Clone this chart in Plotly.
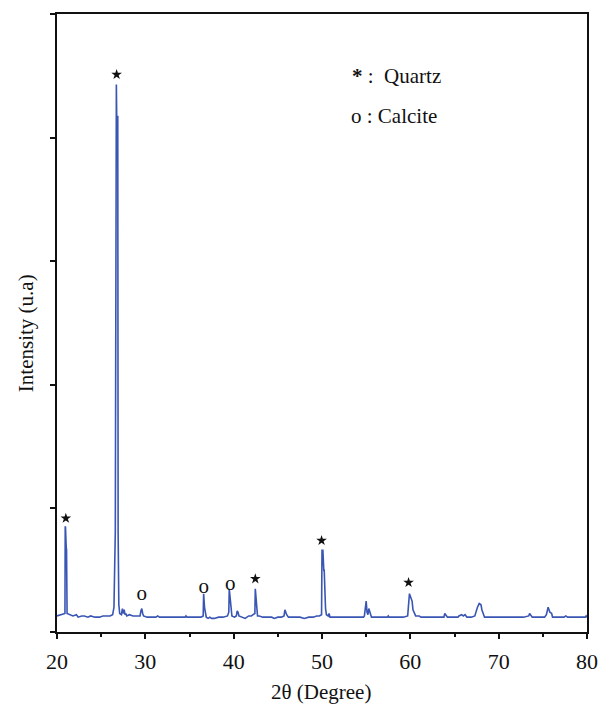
import plotly.graph_objects as go

# XRD pattern: 2theta (deg) and intensity (arb. units)
two_theta = [
    20.0, 20.4, 20.6, 20.9, 20.93, 20.96, 21.05, 21.08, 21.14, 21.4, 21.8, 22.2, 22.4, 22.8, 23.1, 23.5,
    23.8, 24.3, 24.8, 25.2, 25.6, 26.0, 26.3, 26.45, 26.6, 26.64, 26.72, 26.76, 26.88, 26.92, 27.0,
    27.1, 27.3, 27.4, 27.5, 27.6, 27.7, 27.8, 27.9, 28.2, 28.6, 29.0, 29.4, 29.5, 29.6, 29.7, 29.8,
    30.2, 30.8, 31.2, 31.4, 31.6, 32.5, 33.5, 34.5, 34.6, 34.7, 35.5, 36.3, 36.55, 36.6, 36.7, 36.8,
    36.9, 37.1, 37.3, 37.5, 37.8, 38.3, 38.8, 39.3, 39.45, 39.5, 39.6, 39.7, 39.8, 40.1, 40.3, 40.4,
    40.5, 40.6, 41.0, 41.3, 41.7, 42.0, 42.2, 42.4, 42.45, 42.55, 42.6, 42.7, 42.9, 43.3, 43.8, 44.3,
    44.6, 45.0, 45.4, 45.7, 45.8, 45.9, 46.0, 46.2, 46.8, 47.5, 48.0, 48.5, 49.0, 49.4, 49.7, 49.95,
    50.0, 50.1, 50.2, 50.25, 50.4, 50.5, 50.7, 50.8, 50.9, 51.3, 52.0, 53.0, 54.0, 54.7, 54.8, 54.9,
    55.0, 55.1, 55.2, 55.3, 55.4, 55.5, 55.6, 55.8, 56.5, 57.4, 57.5, 57.6, 58.5, 59.2, 59.7, 59.8,
    59.9, 60.0, 60.1, 60.2, 60.3, 60.5, 60.6, 61.0, 61.2, 62.0, 63.0, 63.8, 63.9, 64.0, 64.1, 64.2,
    64.8, 65.4, 65.5, 65.8, 66.0, 66.2, 66.4, 66.9, 67.3, 67.4, 67.6, 67.8, 68.0, 68.1, 68.3, 68.4,
    68.6, 69.3, 70.5, 71.5, 72.8, 73.4, 73.5, 73.6, 73.8, 74.0, 74.6, 75.2, 75.4, 75.5, 75.6, 75.7,
    75.8, 76.0, 76.1, 76.4, 76.9, 77.4, 77.6, 77.8, 78.2, 78.8, 79.4, 79.8, 79.9, 80.0
]
intensity = [
    0.13, 0.14, 0.14, 0.15, 0.85, 0.85, 0.67, 0.67, 0.15, 0.14, 0.13, 0.14, 0.12, 0.13, 0.13, 0.12,
    0.13, 0.12, 0.12, 0.13, 0.13, 0.13, 0.14, 0.20, 0.81, 4.43, 4.43, 4.17, 4.17, 0.80, 0.22,
    0.15, 0.14, 0.19, 0.15, 0.18, 0.14, 0.15, 0.13, 0.14, 0.13, 0.13, 0.13, 0.17, 0.19, 0.15, 0.13,
    0.12, 0.12, 0.12, 0.13, 0.12, 0.12, 0.12, 0.12, 0.13, 0.12, 0.12, 0.12, 0.13, 0.31, 0.20, 0.13,
    0.12, 0.11, 0.12, 0.11, 0.11, 0.12, 0.12, 0.13, 0.16, 0.35, 0.28, 0.20, 0.13, 0.12, 0.13, 0.17,
    0.16, 0.13, 0.12, 0.11, 0.13, 0.13, 0.14, 0.15, 0.35, 0.22, 0.16, 0.13, 0.13, 0.12, 0.12, 0.12,
    0.11, 0.12, 0.12, 0.13, 0.18, 0.15, 0.14, 0.12, 0.12, 0.12, 0.11, 0.12, 0.12, 0.13, 0.13, 0.14,
    0.66, 0.66, 0.50, 0.50, 0.19, 0.14, 0.13, 0.15, 0.12, 0.12, 0.12, 0.12, 0.12, 0.12, 0.13, 0.22,
    0.25, 0.16, 0.14, 0.19, 0.16, 0.15, 0.12, 0.12, 0.12, 0.12, 0.13, 0.12, 0.12, 0.12, 0.13, 0.22,
    0.31, 0.29, 0.27, 0.25, 0.18, 0.14, 0.13, 0.13, 0.12, 0.12, 0.12, 0.12, 0.15, 0.14, 0.13, 0.12,
    0.12, 0.12, 0.13, 0.14, 0.13, 0.14, 0.12, 0.12, 0.13, 0.16, 0.20, 0.23, 0.22, 0.18, 0.14, 0.12,
    0.12, 0.12, 0.12, 0.12, 0.12, 0.13, 0.15, 0.14, 0.12, 0.12, 0.12, 0.12, 0.14, 0.17, 0.20, 0.18,
    0.16, 0.15, 0.12, 0.12, 0.12, 0.12, 0.13, 0.12, 0.12, 0.12, 0.12, 0.12, 0.13, 0.12
]

# phase labels: quartz peaks (*) and calcite peaks (o)
quartz_x = [21.0, 26.75, 42.45, 49.95, 59.8]
quartz_y = [0.92, 4.51, 0.43, 0.74, 0.40]
calcite_x = [29.6, 36.6, 39.6]
calcite_y = [0.30, 0.36, 0.38]

FONT = "Liberation Serif"
LINE_BLUE = "#3a56b4"

fig = go.Figure()
fig.add_trace(go.Scatter(
    x=two_theta, y=intensity, mode="lines",
    line=dict(color=LINE_BLUE, width=1.6, shape="linear"),
    showlegend=False, hoverinfo="skip",
))
fig.add_trace(go.Scatter(
    x=quartz_x, y=quartz_y, mode="markers",
    marker=dict(symbol="star", size=8, color="#111111"),
    showlegend=False, hoverinfo="skip",
))
fig.add_trace(go.Scatter(
    x=calcite_x, y=calcite_y, mode="text", text=["o"] * len(calcite_x),
    textfont=dict(family=FONT, size=21, color="#111111"),
    showlegend=False, hoverinfo="skip",
))

axis_common = dict(
    showline=True, linecolor="#111111", linewidth=1.5, mirror=True,
    showgrid=False, zeroline=False, ticks="outside", tickcolor="#111111",
    tickwidth=1.5,
)

fig.update_xaxes(
    range=[20, 80], tick0=20, dtick=10, ticklen=5,
    tickfont=dict(family=FONT, size=22, color="#111111"),
    ticklabelstandoff=4,
    minor=dict(ticks="outside", dtick=5, ticklen=3, tickcolor="#111111", tickwidth=1.5),
    **axis_common,
)
fig.update_yaxes(
    range=[0, 5], tickvals=[0, 1, 2, 3, 4, 5], ticklen=5, showticklabels=False,
    **axis_common,
)

fig.add_annotation(
    text="2θ (Degree)", xref="paper", yref="paper", x=0.498, y=-0.097,
    showarrow=False, font=dict(family=FONT, size=21, color="#111111"),
    xanchor="center", yanchor="middle",
)
fig.add_annotation(
    text="Intensity (u.a)", xref="paper", yref="paper", x=-0.058, y=0.484,
    textangle=-90, showarrow=False, font=dict(family=FONT, size=21, color="#111111"),
    xanchor="center", yanchor="middle",
)
fig.add_annotation(
    text="<b>*</b> :  Quartz", xref="paper", yref="paper", x=0.553, y=0.90,
    showarrow=False, font=dict(family=FONT, size=21, color="#111111"),
    xanchor="left", yanchor="middle",
)
fig.add_annotation(
    text="o : Calcite", xref="paper", yref="paper", x=0.551, y=0.835,
    showarrow=False, font=dict(family=FONT, size=21, color="#111111"),
    xanchor="left", yanchor="middle",
)

fig.update_layout(
    width=610, height=706,
    margin=dict(l=57, r=21, t=14, b=74),
    paper_bgcolor="white", plot_bgcolor="white",
)

fig.write_html("out.html")
